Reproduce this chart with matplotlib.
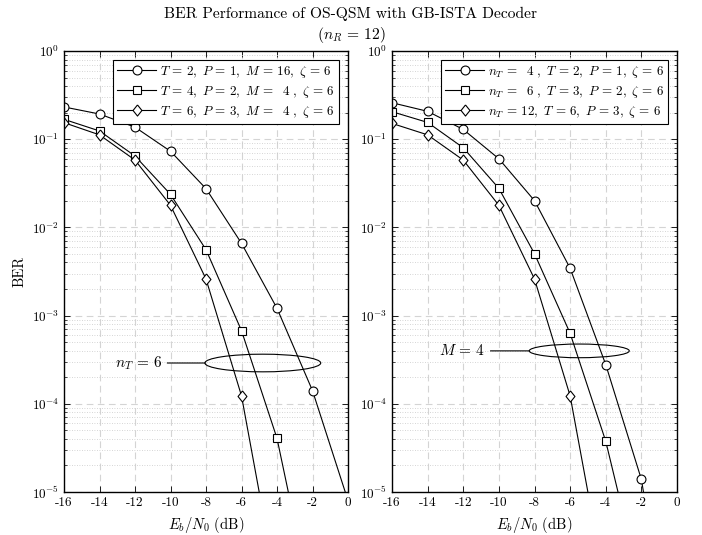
import matplotlib
matplotlib.use("Agg")
import matplotlib.pyplot as plt
from matplotlib.patches import Ellipse
from matplotlib.ticker import LogLocator, NullFormatter

plt.rcParams['font.family'] = 'serif'
plt.rcParams['font.serif'] = ['cmr10']
plt.rcParams['mathtext.fontset'] = 'cm'
plt.rcParams['axes.formatter.use_mathtext'] = True
plt.rcParams['axes.unicode_minus'] = False

# ---------------- data ----------------
snr = [-16, -14, -12, -10, -8, -6, -4, -2, 0]
x_ticks = [-16, -14, -12, -10, -8, -6, -4, -2, 0]
x_tick_labels = ['-16', '-14', '-12', '-10', '-8', '-6', '-4', '-2', '0']

left_labels = [r'$T\,=\,2,\ P\,=\,1,\ M\,=\,16,\ \zeta\,=\,6$',
               r'$T\,=\,4,\ P\,=\,2,\ M\,=\ \ 4\ ,\ \zeta\,=\,6$',
               r'$T\,=\,6,\ P\,=\,3,\ M\,=\ \ 4\ ,\ \zeta\,=\,6$']
left_circle = [0.232, 0.193, 0.137, 0.073, 0.0275, 0.0066, 0.00121, 1.41e-4, 8e-6]
left_square = [0.168, 0.124, 0.0645, 0.0237, 0.00559, 6.75e-4, 4.06e-5, 5e-7]
left_diamond = [0.154, 0.112, 0.058, 0.0178, 0.0026, 1.23e-4, 8e-7]

right_labels = [r'$n_T\,=\ \ 4\ ,\ T\,=\,2,\ P\,=\,1,\ \zeta\,=\,6$',
                r'$n_T\,=\ \ 6\ ,\ T\,=\,3,\ P\,=\,2,\ \zeta\,=\,6$',
                r'$n_T\,=\,12,\ T\,=\,6,\ P\,=\,3,\ \zeta\,=\,6$']
right_circle = [0.259, 0.207, 0.129, 0.060, 0.0201, 0.00344, 2.78e-4, 1.39e-5, 5e-8]
right_square = [0.205, 0.155, 0.080, 0.0277, 0.00503, 6.3e-4, 3.76e-5, 8e-7]
right_diamond = [0.151, 0.112, 0.058, 0.0178, 0.0026, 1.23e-4, 8e-7]

diamond = [(0, 1), (0.8, 0), (0, -1), (-0.8, 0), (0, 1)]
markers = ['o', 's', diamond]
msizes = [6.4, 6.0, 8.0]

fig = plt.figure(figsize=(7.02, 5.35), dpi=100)
axL = fig.add_axes([64/702, 43/535, 284/702, 441/535])
axR = fig.add_axes([392/702, 43/535, 285/702, 441/535])


def style(ax):
    ax.set_yscale('log')
    ax.set_xlim(-16, 0)
    ax.set_ylim(1e-5, 1)
    ax.set_xticks(x_ticks)
    ax.set_xticklabels(x_tick_labels)
    ax.yaxis.set_major_locator(LogLocator(base=10, numticks=10))
    ax.yaxis.set_minor_locator(LogLocator(base=10, subs=range(2, 10), numticks=20))
    ax.yaxis.set_minor_formatter(NullFormatter())
    ax.tick_params(which='both', direction='in', top=True, right=True,
                   labelsize=9.5)
    ax.tick_params(which='major', length=4, width=0.6)
    ax.tick_params(which='minor', length=2.2, width=0.5)
    ax.grid(True, which='major', linestyle=(0, (6, 4)), color='#d4d4d4', linewidth=0.8)
    ax.grid(True, which='minor', axis='y', linestyle=(0, (1, 2)), color='#c8c8c8', linewidth=0.6)
    ax.set_axisbelow(True)
    for s in ax.spines.values():
        s.set_linewidth(1.0)
    ax.set_xlabel(r'$E_b/N_0$ (dB)', fontsize=10.5)


def draw(ax, series, labels):
    for vals, m, ms, lab in zip(series, markers, msizes, labels):
        ax.plot(snr[:len(vals)], vals, color='black', linewidth=0.8,
                marker=m, markersize=ms, markerfacecolor='white',
                markeredgecolor='black', markeredgewidth=0.8, label=lab)
    leg = ax.legend(loc='upper right', fontsize=9.4, handlelength=3.0,
                    borderaxespad=0.7, labelspacing=0.3, handletextpad=0.3,
                    borderpad=0.3, fancybox=False, framealpha=1,
                    edgecolor='black')
    leg.get_frame().set_linewidth(0.8)


style(axL)
style(axR)
draw(axL, [left_circle, left_square, left_diamond], left_labels)
draw(axR, [right_circle, right_square, right_diamond], right_labels)

axL.set_ylabel('BER', fontsize=10.5)

# annotations
axL.add_patch(Ellipse((0.70, 0.2925), 0.408, 0.040, transform=axL.transAxes,
                      fill=False, edgecolor='black', linewidth=0.8))
axL.annotate(r'$n_T\,=\,6$', xy=(0.499, 0.2925), xycoords='axes fraction',
             xytext=(0.344, 0.2925), textcoords='axes fraction',
             ha='right', va='center', fontsize=11,
             arrowprops=dict(arrowstyle='-', lw=0.8, color='black',
                             shrinkA=2, shrinkB=0))

axR.add_patch(Ellipse((0.657, 0.320), 0.351, 0.031, transform=axR.transAxes,
                      fill=False, edgecolor='black', linewidth=0.8))
axR.annotate(r'$M\,=\,4$', xy=(0.481, 0.320), xycoords='axes fraction',
             xytext=(0.326, 0.320), textcoords='axes fraction',
             ha='right', va='center', fontsize=11,
             arrowprops=dict(arrowstyle='-', lw=0.8, color='black',
                             shrinkA=2, shrinkB=0))

fig.text(0.5, 1 - 14/535, 'BER Performance of OS-QSM with GB-ISTA Decoder',
         ha='center', va='center', fontsize=11.2)
fig.text(0.5, 1 - 35/535, r'$(n_R\,=\,12)$', ha='center', va='center', fontsize=11.2)

fig.savefig('out.png', dpi=100)
